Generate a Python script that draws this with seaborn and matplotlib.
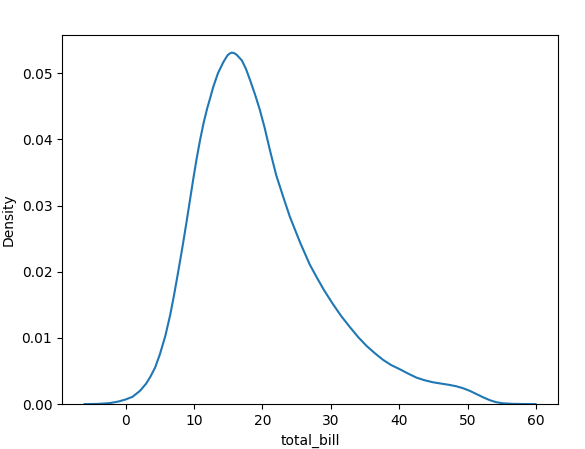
import matplotlib
matplotlib.use("Agg")
import matplotlib.pyplot as plt
import pandas as pd
import seaborn as sns

# density curve of total_bill
total_bill = [-6.0, -4.0, -2.3, -1.0, 0.0, 1.0, 2.1, 3.0, 3.6, 4.3,
              5.0, 5.8, 6.5, 7.1, 7.7, 8.3, 8.9, 9.4, 9.9, 10.4,
              10.9, 11.4, 11.9, 12.4, 12.8, 13.5, 14.3, 14.9, 15.2, 15.5,
              15.85, 16.2, 17.0, 17.6, 18.2, 18.9, 19.6, 20.3, 21.1, 22.0,
              23.0, 24.0, 25.5, 26.9, 27.9, 29.0, 30.3, 31.5, 32.8, 34.0,
              35.2, 36.4, 37.6, 38.8, 40.0, 41.3, 42.5, 43.7, 44.9, 46.1,
              47.3, 48.3, 49.3, 50.3, 51.3, 52.3, 53.2, 54.1, 55.1, 56.5,
              58.0, 59.9]
density = [0.0, 0.00003, 0.00015, 0.0004, 0.0007, 0.0011, 0.0020, 0.0031, 0.0041, 0.0055,
           0.0075, 0.0103, 0.0134, 0.0166, 0.0201, 0.0237, 0.0275, 0.0308, 0.0341, 0.0372,
           0.0400, 0.0425, 0.0446, 0.0464, 0.0479, 0.0500, 0.0517, 0.0527, 0.05295, 0.0531,
           0.05302, 0.0528, 0.0519, 0.0506, 0.0489, 0.0468, 0.0445, 0.0418, 0.0383, 0.0346,
           0.0314, 0.0283, 0.0244, 0.0211, 0.0192, 0.0172, 0.0151, 0.0133, 0.0116, 0.0101,
           0.0088, 0.0077, 0.0067, 0.0059, 0.0053, 0.0046, 0.0040, 0.0036, 0.0033, 0.0031,
           0.0029, 0.0027, 0.0024, 0.0020, 0.0015, 0.0010, 0.0006, 0.0003, 0.00012, 0.00004,
           0.00001, 0.0]

df = pd.DataFrame({"total_bill": total_bill, "Density": density})

fig, ax = plt.subplots(figsize=(5.85, 4.49), dpi=100)
fig.subplots_adjust(left=0.106, right=0.954, top=0.922, bottom=0.1)

sns.lineplot(data=df, x="total_bill", y="Density", color="#1f77b4", ax=ax)
ax.set_ylim(bottom=0)
ax.set_xlabel("total_bill")
ax.set_ylabel("Density")

fig.savefig("out.png", dpi=100)
